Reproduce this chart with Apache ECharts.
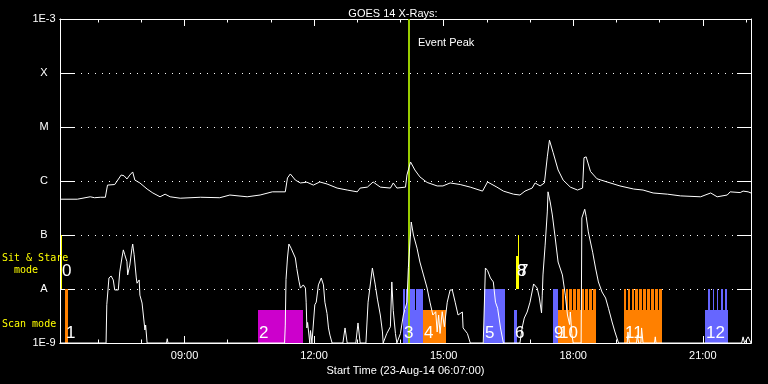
<!DOCTYPE html>
<html><head><meta charset="utf-8">
<script src="https://cdn.jsdelivr.net/npm/echarts@6/dist/echarts.min.js"></script>
<style>html,body{margin:0;padding:0;background:#000;}#c{width:768px;height:384px;}</style>
</head><body><div id="c"></div>
<script>
// ---------- data ----------
const startTime = '06:07';
const spanHours = 16;
const yTickLabels = ['1E-9', 'A', 'B', 'C', 'M', 'X', '1E-3'];
const xLabelTimes = ['09:00', '12:00', '15:00', '18:00', '21:00'];
const xHourTicks = ['07:00','08:00','09:00','10:00','11:00','12:00','13:00','14:00','15:00','16:00','17:00','18:00','19:00','20:00','21:00','22:00'];
const eventPeak = '14:12';

// long-wavelength channel (W/m^2)
const longChannel = [
  ['06:07',4.6e-7],['06:31',4.6e-7],['06:49',5.1e-7],['06:55',4.9e-7],['07:03',5.0e-7],['07:10',5.0e-7],
  ['07:13',8.4e-7],['07:23',8.6e-7],['07:32',1.29e-6],['07:36',1.25e-6],['07:40',1.09e-6],['07:44',1.29e-6],
  ['07:48',1.47e-6],['07:51',1.04e-6],['07:58',9.2e-7],['08:08',7.1e-7],['08:16',6.0e-7],['08:26',5.1e-7],
  ['08:33',5.7e-7],['08:40',5.1e-7],['08:54',4.8e-7],['09:22',5.0e-7],['09:49',4.9e-7],['10:03',5.5e-7],
  ['10:27',5.1e-7],['10:45',5.5e-7],['11:02',6.3e-7],['11:20',6.3e-7],['11:23',1.14e-6],['11:27',1.35e-6],
  ['11:34',1.04e-6],['11:41',9.2e-7],['11:50',9.5e-7],['11:59',8.4e-7],['12:08',9.6e-7],['12:18',8.8e-7],
  ['12:32',7.4e-7],['12:46',6.8e-7],['13:00',6.3e-7],['13:04',7.4e-7],['13:14',7.7e-7],['13:22',9.6e-7],
  ['13:32',7.7e-7],['13:46',7.4e-7],['13:50',9.2e-7],['13:55',7.4e-7],['14:07',7.7e-7],['14:09',1.29e-6],
  ['14:14',2.25e-6],['14:20',1.6e-6],['14:27',1.19e-6],['14:37',9.4e-7],['14:51',8.1e-7],['14:59',8.1e-7],
  ['15:09',9.2e-7],['15:23',8.6e-7],['15:37',7.7e-7],['15:54',6.5e-7],['16:01',9.6e-7],['16:14',7.7e-7],
  ['16:23',6.5e-7],['16:37',5.7e-7],['16:46',5.5e-7],['16:53',6.5e-7],['17:03',7.4e-7],['17:07',9.2e-7],
  ['17:14',8.1e-7],['17:20',9.2e-7],['17:24',2.8e-6],['17:27',5.7e-6],['17:32',3.4e-6],['17:39',1.6e-6],
  ['17:46',1.04e-6],['17:56',7.7e-7],['18:06',6.8e-7],['18:13',7.4e-7],['18:15',2.7e-6],['18:18',2.8e-6],
  ['18:24',1.5e-6],['18:33',1.1e-6],['18:47',9.6e-7],['19:05',8.1e-7],['19:24',7.1e-7],['19:37',6.8e-7],
  ['19:51',6.0e-7],['20:11',5.7e-7],['20:29',5.3e-7],['20:57',5.1e-7],['21:11',6.0e-7],['21:20',5.1e-7],
  ['21:34',5.5e-7],['21:38',6.3e-7],['21:52',6.1e-7],['21:56',6.5e-7],['22:03',6.3e-7],['22:07',6.0e-7]
];

// short-wavelength channel (W/m^2), floor at 1E-9
const shortChannel = [
  ['06:07',1e-9],['07:11',1e-9],['07:12',5.1e-9],['07:15',1.6e-8],['07:18',1.74e-8],['07:21',1.47e-8],
  ['07:23',9.6e-9],['07:28',9.6e-9],['07:30',2.07e-8],['07:33',3.75e-8],['07:35',5.3e-8],['07:37',4.3e-8],
  ['07:40',3.2e-8],['07:41',1.82e-8],['07:44',2.78e-8],['07:47',5.7e-8],['07:48',6.8e-8],['07:50',4.3e-8],
  ['07:53',1.6e-8],['07:54',1.28e-8],['07:57',1.47e-8],['07:58',7.7e-9],['08:01',5.5e-9],['08:02',5.7e-9],
  ['08:05',1.74e-9],['08:06',2.15e-9],['08:08',1e-9],['08:35',1e-9],['08:36',1.2e-9],['08:37',1e-9],
  ['11:19',1e-9],['11:20',2.15e-9],['11:21',1.5e-8],['11:23',3.75e-8],['11:25',6.8e-8],['11:28',5.7e-8],
  ['11:34',3.75e-8],['11:36',2.4e-8],['11:39',1.4e-8],['11:41',1.04e-8],['11:45',1.19e-8],['11:48',1.04e-8],
  ['11:49',5.7e-9],['11:50',1.9e-9],['11:51',2.4e-9],['11:54',1e-9],['11:55',1.7e-9],['11:57',1e-9],
  ['12:01',5.1e-9],['12:03',5.7e-9],['12:06',1.19e-8],['12:10',1.6e-8],['12:13',1.19e-8],['12:15',5.7e-9],
  ['12:18',3.5e-9],['12:20',1.9e-9],['12:22',1.4e-9],['12:25',1e-9],['12:40',1e-9],['12:43',1.9e-9],
  ['12:46',1e-9],['12:58',1e-9],['13:01',2.35e-9],['13:04',1e-9],['13:12',1e-9],['13:15',5.7e-9],
  ['13:21',2.45e-8],['13:22',2.55e-8],['13:25',1.19e-8],['13:28',6.5e-9],['13:32',3.3e-9],['13:35',1.6e-9],
  ['13:36',1e-9],['13:41',1.5e-9],['13:46',2e-9],['13:48',1.35e-8],['13:50',4e-9],['13:53',1.5e-9],
  ['13:55',1e-9],['14:00',1.5e-9],['14:04',3.3e-9],['14:09',5.7e-9],['14:11',2.5e-8],['14:15',1.74e-7],
  ['14:18',1.0e-7],['14:23',5.7e-8],['14:27',3.16e-8],['14:32',1.82e-8],['14:37',1.04e-8],['14:41',5.7e-9],
  ['14:45',3.3e-9],['14:49',3.8e-9],['14:51',1.6e-9],['14:53',3.3e-9],['14:55',1.5e-9],['14:58',3.8e-9],
  ['15:01',2.0e-9],['15:05',5.7e-9],['15:09',9.6e-9],['15:12',9.6e-9],['15:16',5.7e-9],['15:20',3.3e-9],
  ['15:26',3.75e-9],['15:27',1.9e-9],['15:33',1.5e-9],['15:37',1e-9],['15:55',1e-9],['15:58',2.45e-8],
  ['16:01',2.2e-8],['16:05',1.6e-8],['16:09',1.35e-8],['16:12',5.7e-9],['16:15',4.4e-9],['16:19',1.9e-9],
  ['16:23',1e-9],['16:46',1e-9],['16:49',1.9e-9],['16:52',2.9e-9],['16:56',3.75e-9],['17:00',5.7e-9],
  ['17:05',1.24e-8],['17:07',1.24e-8],['17:10',1.04e-8],['17:13',6.8e-9],['17:16',3.6e-9],['17:17',7.7e-9],
  ['17:18',1.82e-8],['17:21',6.5e-8],['17:24',2.67e-7],['17:25',6.3e-7],['17:28',4.1e-7],['17:31',2.35e-7],
  ['17:35',8.8e-8],['17:39',3.16e-8],['17:45',1.82e-8],['17:49',7.7e-9],['17:52',3.3e-9],['17:55',2.2e-9],
  ['17:56',3.75e-9],['17:58',1.5e-9],['18:00',1e-9],['18:11',1e-9],['18:12',2.07e-7],['18:16',3.0e-7],
  ['18:18',2.2e-7],['18:21',1.14e-7],['18:27',4.8e-8],['18:31',2.45e-8],['18:35',1.35e-8],['18:40',8.8e-9],
  ['18:45',6.8e-9],['18:49',4.4e-9],['18:54',2.45e-9],['18:58',1.6e-9],['19:03',1e-9],['19:15',1e-9],
  ['19:16',1.6e-9],['19:18',1e-9],['19:28',1e-9],['19:29',1.4e-9],['19:31',1e-9],['19:34',1e-9],
  ['19:35',1.9e-9],['19:37',1e-9],['19:53',1e-9],['19:54',1.3e-9],['19:55',1e-9],['21:54',1e-9],
  ['21:56',1.3e-9],['21:58',1e-9],['22:03',1.3e-9],['22:07',1e-9]
];

// observation blocks: [start, end, low, high]
const orangeBlocks = [
  ['06:13:55','06:18:30',1e-9,1e-8],
  ['14:31:20','15:03:40',1e-9,4.1e-9],
  ['17:38:30','18:31:05',1e-9,4.1e-9],
  ['17:44:00','17:47:45',1e-9,1e-8],['17:49:25','17:53:10',1e-9,1e-8],['17:54:50','17:58:35',1e-9,1e-8],
  ['18:00:15','18:04:00',1e-9,1e-8],['18:05:40','18:09:25',1e-9,1e-8],['18:11:05','18:14:50',1e-9,1e-8],
  ['18:16:30','18:20:15',1e-9,1e-8],['18:21:55','18:25:40',1e-9,1e-8],['18:27:20','18:31:05',1e-9,1e-8],
  ['19:10:05','20:02:40',1e-9,4.1e-9],
  ['19:10:05','19:13:55',1e-9,1e-8],['19:15:35','19:19:20',1e-9,1e-8],['19:21:00','19:24:45',1e-9,1e-8],
  ['19:26:25','19:30:10',1e-9,1e-8],['19:31:50','19:35:35',1e-9,1e-8],['19:37:15','19:41:00',1e-9,1e-8],
  ['19:42:40','19:46:25',1e-9,1e-8],['19:48:05','19:51:50',1e-9,1e-8],['19:53:30','19:57:15',1e-9,1e-8],
  ['19:58:55','20:02:40',1e-9,1e-8]
];
const blueBlocks = [
  ['14:03:05','14:31:20',1e-9,4.1e-9],
  ['14:03:05','14:06:40',1e-9,1e-8],['14:08:00','14:20:50',1e-9,1e-8],['14:22:10','14:31:20',1e-9,1e-8],
  ['15:56:05','16:25:40',1e-9,4.1e-9],
  ['15:56:05','16:02:20',1e-9,1e-8],['16:03:40','16:25:40',1e-9,1e-8],
  ['16:37:40','16:41:30',1e-9,4.1e-9],
  ['17:31:55','17:38:30',1e-9,1e-8],
  ['21:03:05','21:35:30',1e-9,4.1e-9],
  ['21:07:40','21:10:00',1e-9,1e-8],['21:13:50','21:16:00',1e-9,1e-8],['21:19:20','21:21:35',1e-9,1e-8],
  ['21:25:20','21:27:40',1e-9,1e-8],['21:31:20','21:34:05',1e-9,1e-8]
];
const magentaBlocks = [
  ['10:42:05','11:44:35',1e-9,4.1e-9]
];
const stareBlocks = [
  ['06:08:25','06:09:50',1e-8,1e-7],
  ['16:41:00','16:44:20',1e-8,4.1e-8],
  ['16:43:20','16:44:40',1e-8,1e-7]
];
const scanLabels = [
  ['06:13:55','1'],['10:42:05','2'],['14:03:05','3'],['14:31:20','4'],['15:56:05','5'],
  ['16:37:40','6'],['17:31:55','9'],['17:38:30','10'],['19:10:05','11'],['21:03:05','12']
];
const stareLabels = [['06:08:25','0'],['16:43:20','7'],['16:41:00','8']];

// ---------- helpers ----------
function hrs(s) { const p = s.split(':').map(Number); return p[0] + p[1] / 60 + (p[2] || 0) / 3600; }
const xMin = hrs(startTime), xMax = xMin + spanHours;
const yMin = 1e-9, yMax = 1e-3;
const FONT = 'Liberation Sans';

function fmtX(v) {
  const hit = xLabelTimes.find(t => Math.abs(hrs(t) - v) < 1e-6);
  return hit || '';
}
function fmtY(v) { return yTickLabels[Math.round(Math.log10(v)) + 9] || ''; }

function blockSeries(arr, color) {
  return {
    type: 'custom', coordinateSystem: 'cartesian2d', xAxisIndex: 0, yAxisIndex: 0,
    z: 1, silent: true, clip: true,
    data: arr.map(b => [hrs(b[0]), hrs(b[1]), b[2], b[3]]),
    encode: { x: [0, 1], y: [2, 3] },
    renderItem: (params, api) => {
      const a = api.coord([api.value(0), api.value(3)]);
      const b = api.coord([api.value(1), api.value(2)]);
      const x0 = Math.round(a[0]), x1 = Math.round(b[0]);
      const y0 = Math.round(a[1]), y1 = Math.round(b[1]);
      return { type: 'rect', shape: { x: x0, y: y0, width: Math.max(1, x1 - x0), height: y1 - y0 },
               style: { fill: color } };
    }
  };
}
function labelSeries(arr, level) {
  return {
    type: 'custom', coordinateSystem: 'cartesian2d', xAxisIndex: 0, yAxisIndex: 0,
    z: 4, silent: true, clip: false,
    data: arr.map(l => [hrs(l[0]), level]),
    encode: { x: 0, y: 1 },
    renderItem: (params, api) => {
      const c = api.coord([api.value(0), api.value(1)]);
      return { type: 'text', x: Math.round(c[0]) + 1, y: c[1],
        style: { text: arr[params.dataIndex][1], fill: '#fff', font: '17px "' + FONT + '"',
                 align: 'left', verticalAlign: 'middle' } };
    }
  };
}

const baseX = {
  type: 'value', min: xMin, max: xMax, splitLine: { show: false },
  axisLine: { show: true, lineStyle: { color: '#fff', width: 1 } }
};
const tick = (len, vals) => ({ show: true, inside: true, length: len, customValues: vals.map(hrs),
                               lineStyle: { color: '#fff', width: 1 } });

const chart = echarts.init(document.getElementById('c'), null, { renderer: 'canvas', devicePixelRatio: 1 });
chart.setOption({
  animation: false,
  backgroundColor: '#000',
  title: {
    text: 'GOES 14 X-Rays:', left: 388, top: 3, textAlign: 'center',
    textStyle: { color: '#fff', fontSize: 11, fontWeight: 'normal', fontFamily: FONT }
  },
  grid: { left: 60, right: 17, top: 19, bottom: 41, containLabel: false },
  xAxis: [
    Object.assign({}, baseX, {
      position: 'bottom',
      axisTick: tick(7, xLabelTimes),
      axisLabel: { show: true, customValues: xLabelTimes.map(hrs), formatter: fmtX, color: '#fff',
                   fontSize: 11, fontFamily: FONT, margin: 7 },
      name: 'Start Time (23-Aug-14 ' + startTime + ':00)', nameLocation: 'middle', nameGap: 20,
      nameTextStyle: { color: '#fff', fontSize: 11, fontFamily: FONT }
    }),
    Object.assign({}, baseX, { position: 'bottom', axisTick: tick(3.5, xHourTicks), axisLabel: { show: false } }),
    Object.assign({}, baseX, { position: 'top', axisTick: tick(7, xLabelTimes), axisLabel: { show: false } }),
    Object.assign({}, baseX, { position: 'top', axisTick: tick(3.5, xHourTicks), axisLabel: { show: false } })
  ],
  yAxis: [
    {
      type: 'log', logBase: 10, min: yMin, max: yMax, position: 'left',
      axisLine: { show: true, lineStyle: { color: '#fff', width: 1 } },
      axisTick: { show: true, inside: true, length: 14, lineStyle: { color: '#fff', width: 1 } },
      axisLabel: { show: true, color: '#fff', fontSize: 11, fontFamily: FONT, align: 'center', margin: 16, formatter: fmtY },
      splitLine: { show: true, lineStyle: { color: '#fff', width: 1, type: [1, 6] } },
      minorTick: { show: false }, minorSplitLine: { show: false }
    },
    {
      type: 'log', logBase: 10, min: yMin, max: yMax, position: 'right',
      axisLine: { show: true, lineStyle: { color: '#fff', width: 1 } },
      axisTick: { show: true, inside: true, length: 14, lineStyle: { color: '#fff', width: 1 } },
      axisLabel: { show: false }, splitLine: { show: false }
    }
  ],
  graphic: [
    { type: 'text', left: 2, top: 252, z: 100,
      style: { text: 'Sit & Stare\n  mode', fill: '#ffff00', font: '10px "DejaVu Sans Mono"', lineHeight: 12 } },
    { type: 'text', left: 2, top: 319, z: 100,
      style: { text: 'Scan mode', fill: '#ffff00', font: '10px "DejaVu Sans Mono"' } }
  ],
  series: [
    blockSeries(magentaBlocks, '#cc00cc'),
    blockSeries(orangeBlocks, '#ff8000'),
    blockSeries(blueBlocks, '#6666ff'),
    blockSeries(stareBlocks, '#ffff00'),
    {
      type: 'custom', coordinateSystem: 'cartesian2d', xAxisIndex: 0, yAxisIndex: 0, z: 3, silent: true,
      data: [[hrs(eventPeak), yMax]], encode: { x: 0, y: 1 },
      renderItem: (params, api) => {
        const top = api.coord([api.value(0), yMax]);
        const bot = api.coord([api.value(0), yMin]);
        const x = Math.round(top[0]);
        return { type: 'group', children: [
          { type: 'rect', shape: { x: x - 1, y: top[1], width: 2, height: bot[1] - top[1] }, style: { fill: '#99cc00' } },
          { type: 'text', x: x + 9, y: top[1] + 18,
            style: { text: 'Event Peak', fill: '#fff', font: '11px "' + FONT + '"', align: 'left', verticalAlign: 'top' } }
        ] };
      }
    },
    labelSeries(scanLabels, 1.5e-9),
    labelSeries(stareLabels, 2.1e-8),
    {
      type: 'line', xAxisIndex: 0, yAxisIndex: 0, z: 5, silent: true, symbol: 'none', showSymbol: false,
      data: longChannel.map(p => [hrs(p[0]), p[1]]), lineStyle: { color: '#fff', width: 1 }
    },
    {
      type: 'line', xAxisIndex: 0, yAxisIndex: 0, z: 5, silent: true, symbol: 'none', showSymbol: false,
      data: shortChannel.map(p => [hrs(p[0]), p[1]]), lineStyle: { color: '#fff', width: 1 }
    }
  ]
});
</script>
</body></html>
